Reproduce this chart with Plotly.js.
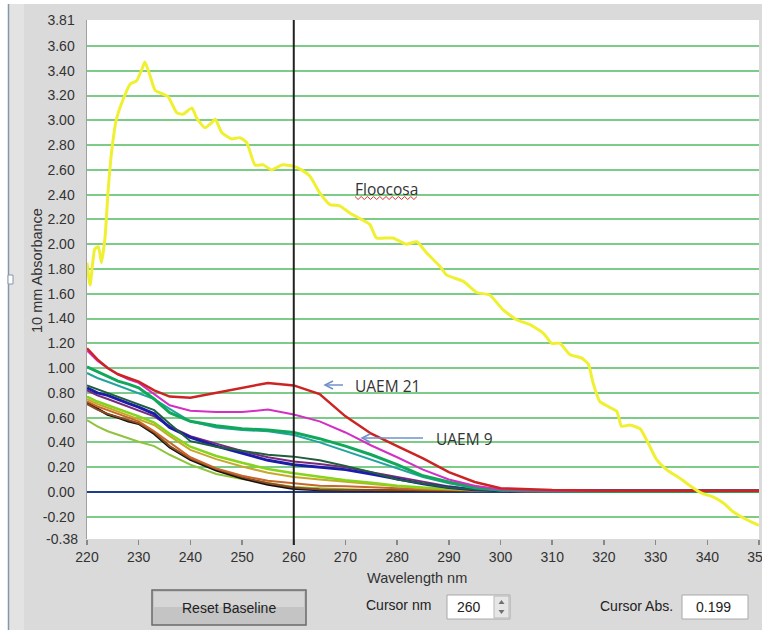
<!DOCTYPE html>
<html><head><meta charset="utf-8">
<script src="https://cdn.plot.ly/plotly-3.0.1.min.js"></script>
<style>html,body{margin:0;padding:0;background:#dcdcdc;}#chart{width:762px;height:630px;}</style>
</head><body><div id="chart"></div>
<script>
// ---- data ----
const wl = [220,222,224,226,228,230,233,236,240,245,250,255,260,265,270,275,280,285,290,295,300,305,310,320,330,340,350];
const red      = [1.16,1.07,1.00,0.95,0.92,0.89,0.82,0.77,0.76,0.80,0.84,0.88,0.86,0.79,0.61,0.47,0.37,0.27,0.16,0.08,0.03,0.02,0.015,0.01,0.012,0.008,0.01];
const magenta  = [1.14,1.06,1.00,0.95,0.91,0.88,0.79,0.70,0.655,0.645,0.645,0.665,0.625,0.57,0.48,0.375,0.28,0.18,0.10,0.05,0.02,0.012,0.01,0.008,0.01,0.008,0.01];
const emerald  = [1.01,0.97,0.93,0.895,0.87,0.84,0.75,0.64,0.57,0.535,0.51,0.50,0.48,0.43,0.37,0.30,0.22,0.13,0.08,0.04,0.015,0.01,0.008,0.006,0.008,0.006,0.008];
const teal     = [0.96,0.92,0.89,0.86,0.83,0.80,0.75,0.67,0.57,0.52,0.50,0.49,0.46,0.40,0.33,0.26,0.19,0.12,0.07,0.03,0.012,0.008,0.006,0.006,0.006,0.006,0.006];
const darkgreen= [0.86,0.83,0.80,0.77,0.74,0.71,0.66,0.55,0.41,0.365,0.335,0.30,0.285,0.255,0.21,0.16,0.10,0.065,0.035,0.02,0.01,0.008,0.008,0.01,0.008,0.008,0.01];
const purple   = [0.82,0.78,0.75,0.72,0.69,0.66,0.61,0.53,0.45,0.39,0.33,0.28,0.245,0.225,0.20,0.16,0.12,0.08,0.045,0.02,0.012,0.01,0.01,0.012,0.01,0.01,0.01];
const blue     = [0.84,0.80,0.78,0.745,0.715,0.685,0.63,0.52,0.44,0.37,0.31,0.255,0.22,0.20,0.18,0.145,0.105,0.065,0.035,0.018,0.01,0.008,0.008,0.01,0.008,0.01,0.012];
const ygreen   = [0.77,0.73,0.70,0.67,0.645,0.61,0.56,0.47,0.365,0.29,0.235,0.185,0.15,0.12,0.095,0.075,0.05,0.035,0.025,0.015,0.01,0.008,0.006,0.006,0.006,0.006,0.006];
const mustard  = [0.75,0.71,0.68,0.65,0.62,0.59,0.54,0.45,0.34,0.265,0.205,0.155,0.12,0.10,0.08,0.06,0.045,0.03,0.02,0.012,0.008,0.006,0.006,0.006,0.006,0.006,0.006];
const orange   = [0.73,0.69,0.66,0.63,0.60,0.57,0.49,0.40,0.28,0.19,0.13,0.09,0.07,0.05,0.045,0.04,0.03,0.02,0.015,0.01,0.008,0.006,0.006,0.006,0.006,0.006,0.006];
const brown    = [0.71,0.665,0.63,0.605,0.575,0.555,0.48,0.37,0.27,0.185,0.12,0.07,0.035,0.02,0.016,0.014,0.012,0.01,0.01,0.008,0.008,0.006,0.006,0.006,0.006,0.006,0.006];
const black    = [0.72,0.67,0.625,0.60,0.57,0.55,0.47,0.36,0.26,0.175,0.11,0.06,0.025,0.015,0.012,0.01,0.01,0.01,0.008,0.008,0.008,0.008,0.008,0.01,0.008,0.01,0.008];
const lime     = [0.58,0.53,0.49,0.46,0.43,0.405,0.37,0.30,0.22,0.145,0.105,0.075,0.04,0.03,0.02,0.015,0.01,0.008,0.006,0.006,0.006,0.006,0.006,0.006,0.006,0.006,0.006];

const yelX = [220,220.6,221.5,222.2,222.8,223.5,224.1,224.8,225.7,227,228.3,229.6,230.6,231.2,232.2,233.2,234.8,235.7,237.4,238.6,240.3,241.2,242.8,244.1,244.8,246.1,248,249.6,250.9,252.5,254.1,255.7,257.7,259.9,261.5,263.1,265.1,267,268.9,270.9,273.1,274.7,276,278,279.2,281.8,283.8,285.7,288.3,289.6,292.8,295.4,297.9,300.5,303.1,305.7,308.3,309.9,311.5,313.4,315.7,317,317.9,319.2,320.8,322.5,323.4,325,327,328.6,330.2,332.1,334.7,337,338.9,341.1,343.1,345,347,348.9,350];
const yelY = [1.85,1.67,1.96,1.98,1.85,2.06,2.44,2.76,3.01,3.17,3.29,3.32,3.41,3.47,3.36,3.24,3.21,3.19,3.06,3.05,3.10,3.02,2.94,2.98,3.01,2.90,2.85,2.86,2.82,2.64,2.64,2.60,2.64,2.63,2.60,2.55,2.41,2.32,2.31,2.25,2.20,2.16,2.05,2.05,2.05,2.00,2.02,1.93,1.82,1.75,1.70,1.61,1.59,1.47,1.39,1.35,1.28,1.20,1.20,1.11,1.08,1.03,0.88,0.73,0.69,0.65,0.53,0.54,0.51,0.39,0.26,0.18,0.11,0.04,-0.01,-0.04,-0.09,-0.16,-0.21,-0.25,-0.27];

const xTicks = [220,230,240,250,260,270,280,290,300,310,320,330,340,350];
const yTicks = [0,0.2,0.4,0.6,0.8,1.0,1.2,1.4,1.6,1.8,2.0,2.2,2.4,2.6,2.8,3.0,3.2,3.4,3.6,3.81,-0.2];
const yTickText = ['0.00','0.20','0.40','0.60','0.80','1.00','1.20','1.40','1.60','1.80','2.00','2.20','2.40','2.60','2.80','3.00','3.20','3.40','3.60','3.81','-0.20'];
const yBottomTick = [-0.38];
const yBottomText = ['-0.38'];
const cursorNm = 260;
const cursorAbs = '0.199';

// ---- drawing ----
const series = [
  {y: lime, c: '#8fc43c', w: 2},
  {y: black, c: '#111111', w: 2.5},
  {y: brown, c: '#8a4a22', w: 2},
  {y: orange, c: '#c8662a', w: 2},
  {y: mustard, c: '#c8a82a', w: 2},
  {y: ygreen, c: '#86d41c', w: 2.5},
  {y: purple, c: '#7a2a78', w: 2},
  {y: blue, c: '#1c1caa', w: 3},
  {y: darkgreen, c: '#1f5e3e', w: 2},
  {y: teal, c: '#22a3a0', w: 2},
  {y: emerald, c: '#12a85c', w: 3},
  {y: magenta, c: '#d42fc4', w: 2},
  {y: red, c: '#cc2424', w: 2.5}
];
const traces = series.map(s => ({x: wl, y: s.y, type: 'scatter', mode: 'lines', line: {color: s.c, width: s.w}, hoverinfo: 'skip'}));
traces.push({x: yelX, y: yelY, type: 'scatter', mode: 'lines', line: {color: '#f0f032', width: 3, shape: 'spline', smoothing: 0.5}, hoverinfo: 'skip'});
traces.push({x: [220], y: [0], yaxis: 'y2', mode: 'markers', marker: {opacity: 0}, hoverinfo: 'skip'});

const L = 87, R = 759, T = 20, B = 539;
const px = v => (v - L) / (R - L);
const py = v => (B - v) / (B - T);

const shapes = [];
shapes.push({type: 'line', xref: 'x', yref: 'paper', x0: cursorNm, x1: cursorNm, y0: py(545), y1: 1, line: {color: '#222', width: 2}});
function arrow(x0, x1, y) {
  shapes.push({type: 'line', xref: 'paper', yref: 'paper', x0: px(x0), x1: px(x1), y0: py(y), y1: py(y), line: {color: '#7090c8', width: 1.5}});
  shapes.push({type: 'path', xref: 'paper', yref: 'paper', path: `M${px(x0 + 8)},${py(y - 4)} L${px(x0)},${py(y)} L${px(x0 + 8)},${py(y + 4)}`, line: {color: '#7090c8', width: 1.5}});
}
arrow(325, 343, 385);
arrow(362, 423, 438);
let wp = '';
for (let i = 0; i <= 20; i++) {
  const xx = 355 + i * 3.1, yy = 198 + (i % 2 ? 1.5 : -1.5);
  wp += (i ? ' L' : 'M') + px(xx) + ',' + py(yy);
}
shapes.push({type: 'path', xref: 'paper', yref: 'paper', path: wp, line: {color: '#e03030', width: 1}});

shapes.push({type: 'rect', xref: 'paper', yref: 'paper', x0: px(0), x1: px(8), y0: py(0), y1: py(630), fillcolor: '#ffffff', line: {width: 0}, layer: 'below'});
shapes.push({type: 'rect', xref: 'paper', yref: 'paper', x0: px(0), x1: px(762), y0: py(0), y1: py(4), fillcolor: '#ffffff', line: {width: 0}, layer: 'below'});
shapes.push({type: 'rect', xref: 'paper', yref: 'paper', x0: px(8), x1: px(24), y0: py(4), y1: py(630), fillcolor: '#e3e3e3', line: {width: 0}, layer: 'below'});
shapes.push({type: 'line', xref: 'paper', yref: 'paper', x0: px(8.5), x1: px(8.5), y0: py(4), y1: py(630), line: {color: '#8596ad', width: 1.5}});
shapes.push({type: 'rect', xref: 'paper', yref: 'paper', x0: px(8), x1: px(13), y0: py(275), y1: py(284), fillcolor: '#ffffff', line: {color: '#8596ad', width: 1}});
shapes.push({type: 'rect', xref: 'paper', yref: 'paper', x0: px(152), x1: px(306), y0: py(625), y1: py(590), fillcolor: '#c4c4c4', line: {color: '#6a6a6a', width: 1.5}});
shapes.push({type: 'rect', xref: 'paper', yref: 'paper', x0: px(154), x1: px(304), y0: py(607), y1: py(592), fillcolor: '#d6d6d6', line: {width: 0}});
shapes.push({type: 'rect', xref: 'paper', yref: 'paper', x0: px(447), x1: px(510), y0: py(619), y1: py(595), fillcolor: '#ffffff', line: {color: '#a8a8a8', width: 1}});
shapes.push({type: 'rect', xref: 'paper', yref: 'paper', x0: px(494), x1: px(509), y0: py(618), y1: py(596), fillcolor: '#e6e6e6', line: {color: '#b8b8b8', width: 1}});
shapes.push({type: 'path', xref: 'paper', yref: 'paper', path: `M${px(498.5)},${py(604)} L${px(501.5)},${py(600)} L${px(504.5)},${py(604)} Z`, fillcolor: '#707070', line: {width: 0}});
shapes.push({type: 'path', xref: 'paper', yref: 'paper', path: `M${px(498.5)},${py(610)} L${px(501.5)},${py(614)} L${px(504.5)},${py(610)} Z`, fillcolor: '#707070', line: {width: 0}});
shapes.push({type: 'rect', xref: 'paper', yref: 'paper', x0: px(682), x1: px(748), y0: py(619), y1: py(595), fillcolor: '#ffffff', line: {color: '#a8a8a8', width: 1}});

const uiFont = {family: 'Liberation Sans, Arial, sans-serif', size: 14, color: '#222'};
const noteFont = {family: 'Open Sans, Liberation Sans, sans-serif', size: 15.5, color: '#333'};
const axFont = {family: 'Liberation Sans, Arial, sans-serif', size: 14.5, color: '#333'};
const ann = (x, y, text, font, extra) => Object.assign({xref: 'paper', yref: 'paper', x: px(x), y: py(y), text: text, showarrow: false, font: font, xanchor: 'center', yanchor: 'middle'}, extra || {});
const annotations = [
  ann(386, 189, 'Floocosa', noteFont),
  ann(353, 386, 'UAEM 21', noteFont, {xanchor: 'left'}),
  ann(434, 439, 'UAEM 9', noteFont, {xanchor: 'left'}),
  ann(37, 271, '10 mm Absorbance', axFont, {textangle: -90}),
  ann(417, 578, 'Wavelength nm', axFont),
  ann(229, 608, 'Reset Baseline', uiFont),
  ann(398, 605, 'Cursor nm', uiFont),
  ann(469, 607, String(cursorNm), uiFont),
  ann(636, 606, 'Cursor Abs.', uiFont),
  ann(713, 607, cursorAbs, uiFont)
];

const layout = {
  width: 762, height: 630,
  margin: {l: L, r: 762 - R, t: T, b: 630 - B},
  paper_bgcolor: '#dadada', plot_bgcolor: '#ffffff',
  showlegend: false, hovermode: false,
  xaxis: {range: [220, 350], tickvals: xTicks, ticktext: xTicks.map(String), ticks: 'outside', ticklen: 5, tickwidth: 1.5, tickcolor: '#888',
          ticklabeloverflow: 'allow', showgrid: false, zeroline: false, showline: false, tickfont: {family: 'Liberation Sans, Arial, sans-serif', size: 14, color: '#333'}},
  yaxis: {range: [-0.38, 3.81], tickvals: yTicks, ticktext: yTickText, ticks: '', ticklabelstandoff: 8,
          showgrid: true, gridcolor: '#7ccb86', gridwidth: 2, zeroline: true, zerolinecolor: '#1f3c88', zerolinewidth: 2,
          showline: true, linecolor: '#a0a0a0', linewidth: 1.5, tickfont: {family: 'Liberation Sans, Arial, sans-serif', size: 14, color: '#333'}},
  yaxis2: {overlaying: 'y', side: 'left', range: [-0.38, 3.81], tickvals: yBottomTick, ticktext: yBottomText, ticks: '', ticklabelstandoff: 8,
          showgrid: false, zeroline: false, showline: false, tickfont: {family: 'Liberation Sans, Arial, sans-serif', size: 14, color: '#333'}},
  shapes: shapes,
  annotations: annotations
};
Plotly.newPlot('chart', traces, layout, {staticPlot: true, displayModeBar: false});
</script>
</body></html>
